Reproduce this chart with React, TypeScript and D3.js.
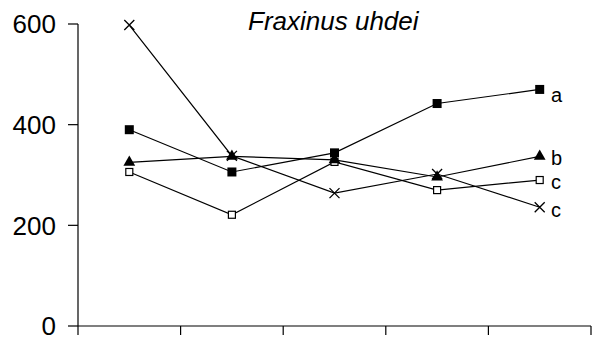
import React from "react";
import * as d3 from "d3";

const categories = ["1", "2", "3", "4", "5"];
const seriesCross = [598, 338, 264, 302, 236];
const seriesFilledSquare = [390, 306, 344, 442, 470];
const seriesTriangle = [325, 337, 330, 296, 337];
const seriesOpenSquare = [306, 221, 326, 270, 290];
const yTicks = [0, 200, 400, 600];
const endLabels = [
  { text: "a", value: 470 },
  { text: "b", value: 337 },
  { text: "c", value: 290 },
  { text: "c", value: 236 },
];
const title = "Fraxinus uhdei";

const W = 593;
const H = 348;
const left = 78;
const right = 591;
const top = 24;
const bottom = 326;

export default function App() {
  const x = d3.scaleBand<string>().domain(categories).range([left, right]);
  const y = d3.scaleLinear().domain([0, 600]).range([bottom, top]);
  const cx = (i: number) => (x(categories[i]) as number) + x.bandwidth() / 2;
  const line = d3
    .line<number>()
    .x((_, i) => cx(i))
    .y((d) => y(d));

  const boundaries = categories.map((c) => x(c) as number).concat([right]);

  const series = [
    { data: seriesCross, marker: "cross" },
    { data: seriesOpenSquare, marker: "openSquare" },
    { data: seriesTriangle, marker: "triangle" },
    { data: seriesFilledSquare, marker: "filledSquare" },
  ];

  const drawMarker = (m: string, px: number, py: number, k: string) => {
    if (m === "cross") {
      const s = 5;
      return (
        <path
          key={k}
          d={`M${px - s},${py - s}L${px + s},${py + s}M${px - s},${py + s}L${px + s},${py - s}`}
          stroke="#000"
          strokeWidth={1.3}
          fill="none"
        />
      );
    }
    if (m === "filledSquare") {
      return <rect key={k} x={px - 4.5} y={py - 4.5} width={9} height={9} fill="#000" />;
    }
    if (m === "openSquare") {
      return (
        <rect key={k} x={px - 3.5} y={py - 3.5} width={7} height={7} fill="#fff" stroke="#000" strokeWidth={1.2} />
      );
    }
    const sym = d3.symbol().type(d3.symbolTriangle).size(60)();
    return <path key={k} d={sym as string} transform={`translate(${px},${py})`} fill="#000" />;
  };

  const labelY = [102, 165, 189, 217];

  return (
    <svg
      width={W}
      height={H}
      style={{ position: "absolute", left: 0, top: 0, background: "#fff" }}
      fontFamily="'Liberation Sans', Arial, sans-serif"
    >
      <rect width={W} height={H} fill="#fff" />
      {/* y axis */}
      <line x1={left} x2={left} y1={top} y2={bottom} stroke="#000" strokeWidth={1.2} />
      {yTicks.map((t) => (
        <g key={t}>
          <line x1={left - 10} x2={left} y1={y(t)} y2={y(t)} stroke="#000" strokeWidth={1.2} />
          <text x={56} y={y(t)} dy="0.36em" textAnchor="end" fontSize={26} fill="#000">
            {t}
          </text>
        </g>
      ))}
      {/* x axis */}
      <line x1={left} x2={right} y1={bottom} y2={bottom} stroke="#000" strokeWidth={1.2} />
      {boundaries.map((b, i) => (
        <line key={i} x1={b} x2={b} y1={bottom} y2={bottom + 9} stroke="#000" strokeWidth={1.2} />
      ))}
      {/* lines */}
      {series.map((s, si) => (
        <g key={si}>
          <path d={line(s.data) as string} fill="none" stroke="#000" strokeWidth={1.2} />
          {s.data.map((v, i) => drawMarker(s.marker, cx(i), y(v), `${si}-${i}`))}
        </g>
      ))}
      {endLabels.map((l, i) => (
        <text key={i} x={551} y={labelY[i]} fontSize={20} fill="#000">
          {l.text}
        </text>
      ))}
      <text x={248} y={30} fontSize={26} fontStyle="italic" fill="#000">
        {title}
      </text>
    </svg>
  );
}
